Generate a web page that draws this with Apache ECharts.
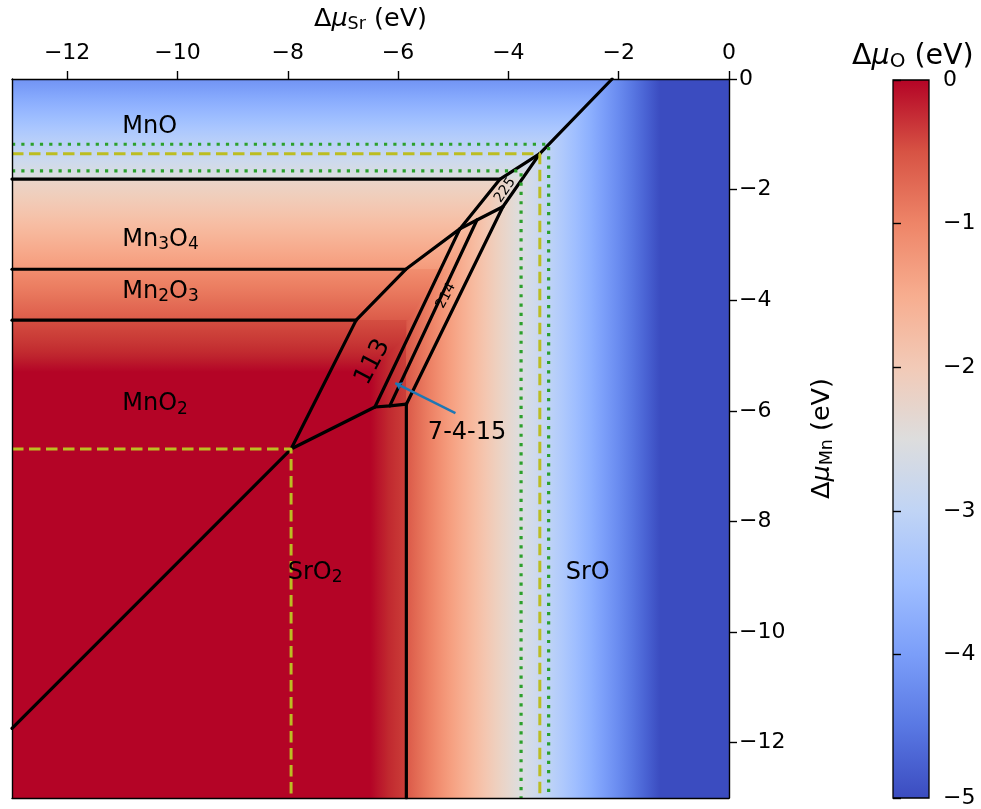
<!DOCTYPE html>
<html><head><meta charset="utf-8">
<script src="https://cdn.jsdelivr.net/npm/echarts@6/dist/echarts.min.js"></script>
<style>html,body{margin:0;padding:0;background:#fff}#c{width:981px;height:809px}</style>
</head><body><div id="c"></div>
<script>
// ================= DATA =================
const xTicks = [-12, -10, -8, -6, -4, -2, 0];
const yTicks = [-12, -10, -8, -6, -4, -2, 0];
const cbTicks = [-5, -4, -3, -2, -1, 0];
const muMin = -13, muMax = 0, oMin = -5, oMax = 0;

// Δμ_O (eV) read along Δμ_Mn (Mn-oxide limited part of the map): [Δμ_Mn, Δμ_O]
const oxygenVsMn = [[0,-4.15],[-1.81,-2.5],[-1.81,-2.25],[-3.44,-1.25],[-3.44,-1.1],[-4.36,-0.58],[-4.36,-0.45],[-5.3,0],[-13,0]];
// Δμ_O (eV) read along Δμ_Sr (SrO2 / SrO limited part of the map): [Δμ_Sr, Δμ_O]
const oxygenVsSr = [[-13,0],[-6.5,0],[-5.85,-0.32],[-5.85,-0.55],[-3.8,-2.5],[-1.25,-5],[0,-5]];
// outline of the part of the map that follows the Sr-oxide profile
const srFieldEdge = [[-2.12,0],[0,0],[0,-13],[-6.5,-13],[-6.5,-5.3],[-5.85,-4.63],[-5.85,-4.36],[-5.82,-4.36],[-5.27,-3.44],[-5.115,-3.44],[-4.06,-1.81],[-3.8,-1.81]];

// phase boundaries [Δμ_Sr, Δμ_Mn]
const boundaryMnOSrO   = [[-2.12,0],[-3.43,-1.35]];
const boundaryMnOMn3O4 = [[-13,-1.81],[-4.15,-1.81]];
const boundaryMn3O4Mn2O3 = [[-13,-3.44],[-5.86,-3.44]];
const boundaryMn2O3MnO2  = [[-13,-4.36],[-6.76,-4.36]];
const edge225Left   = [[-3.43,-1.35],[-4.15,-1.81],[-4.88,-2.71]];
const edge225Right  = [[-3.43,-1.35],[-4.10,-2.31]];
const edge225Bottom = [[-4.88,-2.71],[-4.57,-2.55],[-4.10,-2.31]];
const edge113Left   = [[-4.88,-2.71],[-5.86,-3.44],[-6.76,-4.36],[-7.94,-6.69]];
const edge113Right  = [[-4.88,-2.71],[-6.42,-5.93]];
const edge7415Right = [[-4.57,-2.55],[-6.15,-5.91]];
const edge214Right  = [[-4.10,-2.31],[-5.85,-5.88]];
const boundaryMnO2SrO2 = [[-7.94,-6.69],[-13,-11.74]];
const boundarySrO2Top  = [[-7.94,-6.69],[-6.42,-5.93],[-6.15,-5.91],[-5.85,-5.88]];
const boundarySrO2SrO  = [[-5.85,-5.88],[-5.85,-13]];
const phaseBoundaries = [boundaryMnOSrO, boundaryMnOMn3O4, boundaryMn3O4Mn2O3, boundaryMn2O3MnO2,
  edge225Left, edge225Right, edge225Bottom, edge113Left, edge113Right, edge7415Right, edge214Right,
  boundaryMnO2SrO2, boundarySrO2Top, boundarySrO2SrO];

// reference guide lines
const dashedGuides = [[[-13,-1.35],[-3.43,-1.35],[-3.43,-13]], [[-13,-6.69],[-7.94,-6.69],[-7.94,-13]]];
const dottedGuides = [[[-13,-1.18],[-3.27,-1.18],[-3.27,-13]], [[-13,-1.66],[-3.77,-1.66],[-3.77,-13]]];
const arrow7415 = [[-4.96,-6.04],[-6.05,-5.50]];

// labels
const regionNames   = ['MnO','Mn3O4','Mn2O3','MnO2','SrO2','SrO'];
const regionAnchors = [[-11.0,-0.87],[-11.0,-2.91],[-11.0,-3.85],[-11.0,-5.88],[-8.0,-8.92],[-2.96,-8.92]];
const phaseTags       = ['225','214','113','7-4-15'];
const phaseTagAnchors = [[-4.06,-2.01],[-5.13,-3.92],[-6.46,-5.12],[-5.46,-6.40]];

// ================= COLORMAP (coolwarm) =================
const CW = [[59,76,192],[68,90,204],[77,104,215],[87,117,225],[98,130,234],[108,142,241],[119,154,247],[130,165,251],[141,176,254],[152,185,255],[163,194,255],[174,201,253],[184,208,249],[194,213,244],[204,217,238],[213,219,230],[221,221,221],[229,216,209],[236,211,197],[241,204,185],[245,196,173],[247,187,160],[247,177,148],[247,166,135],[244,154,123],[241,141,111],[236,127,99],[229,112,88],[222,96,77],[213,80,66],[203,62,56],[192,40,47],[180,4,38]];
function cmap(v){
  let t = (v - oMin) / (oMax - oMin); t = Math.max(0, Math.min(1, t));
  const f = t * 32; const i = Math.min(31, Math.floor(f)); const r = f - i;
  const a = CW[i], b = CW[i+1];
  return 'rgb(' + [0,1,2].map(k => Math.round(a[k] + (b[k]-a[k])*r)).join(',') + ')';
}
function stops(profile, p0, p1){
  const out = [];
  for (let k = 0; k < profile.length; k++){
    if (k > 0){
      const pa = profile[k-1][0], va = profile[k-1][1], pb = profile[k][0], vb = profile[k][1];
      const n = 10;
      for (let j = 1; j < n; j++){
        const s = j / n;
        out.push({offset: ((pa + (pb-pa)*s) - p0) / (p1 - p0), color: cmap(va + (vb-va)*s)});
      }
    }
    out.push({offset: (profile[k][0] - p0) / (p1 - p0), color: cmap(profile[k][1])});
  }
  return out.map(s => ({offset: Math.max(0, Math.min(1, s.offset)), color: s.color}));
}
function fmt(v){ return v < 0 ? '\u2212' + Math.abs(v) : String(v); }
function sub(name){ return name.replace(/(\d)/g, '{s|$1}'); }

const FONT = 'DejaVu Sans';
const nameRich = (size, subSize, pad) => ({
  d: {fontSize: size, fontFamily: FONT, color: '#000', fontWeight: 'normal'},
  m: {fontSize: size, fontFamily: FONT, fontStyle: 'italic', color: '#000', fontWeight: 'normal'},
  s: {fontSize: subSize, fontFamily: FONT, color: '#000', fontWeight: 'normal', padding: [pad,0,0,0]}
});

const series = [];
// background map: Mn-oxide limited profile (vertical)
series.push({
  type: 'custom', xAxisIndex: 0, yAxisIndex: 0, z: 1, silent: true, data: [0], animation: false,
  renderItem: (params, api) => {
    const tl = api.coord([muMin, muMax]), br = api.coord([muMax, muMin]);
    return {type: 'rect', shape: {x: tl[0], y: tl[1], width: br[0]-tl[0], height: br[1]-tl[1]},
      style: {fill: {type: 'linear', x: 0, y: tl[1], x2: 0, y2: br[1], global: true, colorStops: stops(oxygenVsMn, muMax, muMin)}}};
  }
});
// background map: Sr-oxide limited profile (horizontal)
series.push({
  type: 'custom', xAxisIndex: 0, yAxisIndex: 0, z: 1, silent: true, data: [0], animation: false,
  renderItem: (params, api) => {
    const pts = srFieldEdge.map(p => api.coord(p));
    const a = api.coord([muMin, 0]), b = api.coord([muMax, 0]);
    return {type: 'polygon', shape: {points: pts},
      style: {fill: {type: 'linear', x: a[0], y: 0, x2: b[0], y2: 0, global: true, colorStops: stops(oxygenVsSr, muMin, muMax)}}};
  }
});
phaseBoundaries.forEach(line => series.push({
  type: 'line', xAxisIndex: 0, yAxisIndex: 0, data: line, symbol: 'none', z: 3, silent: true, animation: false,
  lineStyle: {color: '#000', width: 3.2, cap: 'round', join: 'round'}
}));
dashedGuides.forEach(line => series.push({
  type: 'line', xAxisIndex: 0, yAxisIndex: 0, data: line, symbol: 'none', z: 4, silent: true, animation: false,
  lineStyle: {color: '#bcbd22', width: 3, type: [11.5, 5.5]}
}));
dottedGuides.forEach(line => series.push({
  type: 'line', xAxisIndex: 0, yAxisIndex: 0, data: line, symbol: 'none', z: 4, silent: true, animation: false,
  lineStyle: {color: '#2ca02c', width: 3.2, type: [3.2, 6.1]}
}));
series.push({
  type: 'lines', coordinateSystem: 'cartesian2d', xAxisIndex: 0, yAxisIndex: 0, z: 5, silent: true, animation: false,
  symbol: ['none', 'arrow'], symbolSize: 7,
  lineStyle: {color: '#1f77b4', width: 2.4, opacity: 1},
  data: [{coords: arrow7415}]
});
// labels
const labelData = [];
regionNames.forEach((n, i) => labelData.push({
  value: regionAnchors[i],
  label: {formatter: sub(n), align: 'left', verticalAlign: 'middle', fontSize: 24, fontFamily: FONT, color: '#000',
    textBorderWidth: 0, opacity: 1,
    rich: {s: {fontSize: 17, fontFamily: FONT, color: '#000', padding: [10,0,0,0]}}}
}));
const tagRot = [55, 62, 62, 0], tagSize = [14, 14, 25, 24], tagAlign = ['center','center','center','left'];
phaseTags.forEach((n, i) => labelData.push({
  value: phaseTagAnchors[i],
  label: {formatter: n, rotate: tagRot[i], align: tagAlign[i], verticalAlign: 'middle', fontSize: tagSize[i], fontFamily: FONT, color: '#000',
    textBorderWidth: 0, opacity: 1}
}));
series.push({
  type: 'scatter', xAxisIndex: 0, yAxisIndex: 0, z: 6, silent: true, animation: false,
  symbolSize: 1, itemStyle: {color: 'rgba(0,0,0,0)'},
  label: {show: true, position: 'inside'},
  data: labelData
});
// colorbar
series.push({
  type: 'custom', xAxisIndex: 2, yAxisIndex: 2, z: 2, silent: true, data: [0], animation: false,
  renderItem: (params, api) => {
    const tl = api.coord([0, oMax]), br = api.coord([1, oMin]);
    const prof = [[oMax, oMax], [oMin, oMin]];
    return {type: 'rect', shape: {x: tl[0], y: tl[1], width: br[0]-tl[0], height: br[1]-tl[1]},
      style: {fill: {type: 'linear', x: 0, y: tl[1], x2: 0, y2: br[1], global: true, colorStops: stops(prof, oMax, oMin)},
        stroke: '#000', lineWidth: 1.3}};
  }
});

const axisLineStyle = {color: '#000', width: 1.4};
const tickLabel = {fontSize: 22, fontFamily: FONT, color: '#000', formatter: fmt};

const option = {
  backgroundColor: '#fff',
  animation: false,
  title: {
    text: '{d|\u0394}{m|\u03bc}{s|O}{d| (eV)}', left: 847, top: 36,
    textStyle: {fontWeight: 'normal', rich: nameRich(28.5, 20, 11)}
  },
  grid: [
    {left: 12, top: 79, width: 717, height: 719},
    {left: 893, top: 80, width: 36, height: 719}
  ],
  xAxis: [
    {type: 'value', gridIndex: 0, min: muMin, max: muMax, position: 'top', z: 8,
      axisLine: {show: true, onZero: false, lineStyle: axisLineStyle},
      axisTick: {show: true, inside: false, length: 8, customValues: xTicks, lineStyle: axisLineStyle},
      axisLabel: Object.assign({customValues: xTicks, margin: 15}, tickLabel),
      splitLine: {show: false},
      name: '{d|\u0394}{m|\u03bc}{s|Sr}{d| (eV)}', nameLocation: 'middle', nameGap: 46,
      nameTextStyle: {rich: nameRich(25.5, 17.5, 10)}},
    {type: 'value', gridIndex: 0, min: muMin, max: muMax, position: 'bottom', z: 8,
      axisLine: {show: true, onZero: false, lineStyle: axisLineStyle},
      axisTick: {show: false}, axisLabel: {show: false}, splitLine: {show: false}},
    {type: 'value', gridIndex: 1, min: 0, max: 1, show: false}
  ],
  yAxis: [
    {type: 'value', gridIndex: 0, min: muMin, max: muMax, position: 'right', z: 8,
      axisLine: {show: true, onZero: false, lineStyle: axisLineStyle},
      axisTick: {show: true, inside: false, length: 8, customValues: yTicks, lineStyle: axisLineStyle},
      axisLabel: Object.assign({customValues: yTicks, margin: 10}, tickLabel),
      splitLine: {show: false},
      name: '{d|\u0394}{m|\u03bc}{s|Mn}{d| (eV)}', nameLocation: 'middle', nameGap: 79, nameRotate: 90,
      nameTextStyle: {rich: nameRich(25.5, 17.5, 10)}},
    {type: 'value', gridIndex: 0, min: muMin, max: muMax, position: 'left', z: 8,
      axisLine: {show: true, onZero: false, lineStyle: axisLineStyle},
      axisTick: {show: false}, axisLabel: {show: false}, splitLine: {show: false}},
    {type: 'value', gridIndex: 1, min: oMin, max: oMax, interval: 1, position: 'right', z: 8,
      axisLine: {show: false},
      axisTick: {show: true, inside: false, length: 8, customValues: cbTicks, lineStyle: axisLineStyle},
      axisLabel: Object.assign({customValues: cbTicks, margin: 14}, tickLabel),
      splitLine: {show: false}}
  ],
  series: series
};
const chart = echarts.init(document.getElementById('c'), null, {renderer: 'canvas'});
chart.setOption(option);
</script>
</body></html>
